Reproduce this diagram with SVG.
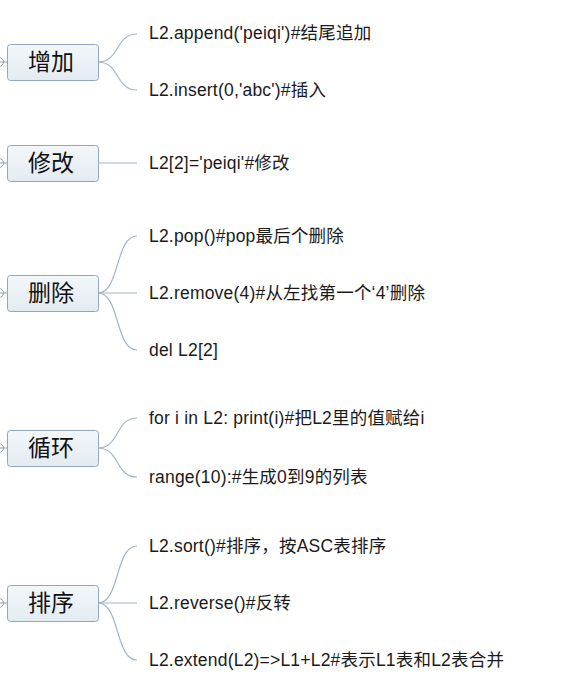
<svg xmlns="http://www.w3.org/2000/svg" width="562" height="690" viewBox="0 0 562 690">
<defs>
<linearGradient id="ng" x1="0" y1="0" x2="0" y2="1">
<stop offset="0" stop-color="#f3f7fa"/>
<stop offset="1" stop-color="#e3ebf2"/>
</linearGradient>
</defs>
<style>
.node rect{fill:url(#ng);stroke:#8fa8bf;stroke-width:1}
.node text{font-family:"Liberation Sans","Noto Sans CJK SC",sans-serif;font-size:23px;fill:#111;text-anchor:middle}
.leaf{font-family:"Liberation Sans","Noto Sans CJK SC",sans-serif;font-size:17.5px;letter-spacing:0.2px;fill:#1a1a1a}
.conn path{fill:none;stroke:#a3b6c6;stroke-width:1.2}
.tog circle{fill:#fff;stroke:#8f9eab;stroke-width:1}
.tog line{stroke:#8f9eab;stroke-width:1}
</style>
<rect width="562" height="690" fill="#fff"/>
<g id="connectors" class="conn">
<path d="M98,62 C120,62 115,34 137,34"/>
<path d="M98,62 C120,62 115,90 137,90"/>
<path d="M98,163 L137,163"/>
<path d="M98,293 C120,293 115,236 137,236"/>
<path d="M98,293 L137,293"/>
<path d="M98,293 C120,293 115,350 137,350"/>
<path d="M98,448 C120,448 115,418 137,418"/>
<path d="M98,448 C120,448 115,477 137,477"/>
<path d="M98,603 C120,603 115,546 137,546"/>
<path d="M98,603 L137,603"/>
<path d="M98,603 C120,603 115,660 137,660"/>
</g>
<g class="tog">
<line x1="3" y1="62" x2="7" y2="62"/><circle cx="-1" cy="62" r="4.5"/><line x1="-4" y1="62" x2="3" y2="62"/>
<line x1="3" y1="163" x2="7" y2="163"/><circle cx="-1" cy="163" r="4.5"/><line x1="-4" y1="163" x2="3" y2="163"/>
<line x1="3" y1="293" x2="7" y2="293"/><circle cx="-1" cy="293" r="4.5"/><line x1="-4" y1="293" x2="3" y2="293"/>
<line x1="3" y1="448" x2="7" y2="448"/><circle cx="-1" cy="448" r="4.5"/><line x1="-4" y1="448" x2="3" y2="448"/>
<line x1="3" y1="603" x2="7" y2="603"/><circle cx="-1" cy="603" r="4.5"/><line x1="-4" y1="603" x2="3" y2="603"/>
</g>
<g id="n-add" class="node"><rect x="7.5" y="44.5" width="91" height="36" rx="3"/><text x="51" y="70">增加</text></g>
<g id="n-edit" class="node"><rect x="7.5" y="145.5" width="91" height="36" rx="3"/><text x="51" y="171">修改</text></g>
<g id="n-del" class="node"><rect x="7.5" y="275.5" width="91" height="36" rx="3"/><text x="51" y="301">删除</text></g>
<g id="n-loop" class="node"><rect x="7.5" y="430.5" width="91" height="36" rx="3"/><text x="51" y="456">循环</text></g>
<g id="n-sort" class="node"><rect x="7.5" y="585.5" width="91" height="36" rx="3"/><text x="51" y="611">排序</text></g>
<g id="leaves">
<text class="leaf" x="149" y="39">L2.append('peiqi')#结尾追加</text>
<text class="leaf" x="149" y="96">L2.insert(0,'abc')#插入</text>
<text class="leaf" x="149" y="169">L2[2]='peiqi'#修改</text>
<text class="leaf" x="149" y="242">L2.pop()#pop最后个删除</text>
<text class="leaf" x="149" y="299">L2.remove(4)#从左找第一个‘4’删除</text>
<text class="leaf" x="149" y="356">del L2[2]</text>
<text class="leaf" x="149" y="424">for i in L2: print(i)#把L2里的值赋给i</text>
<text class="leaf" x="149" y="483">range(10):#生成0到9的列表</text>
<text class="leaf" x="149" y="552">L2.sort()#排序，按ASC表排序</text>
<text class="leaf" x="149" y="609">L2.reverse()#反转</text>
<text class="leaf" x="149" y="666">L2.extend(L2)=&gt;L1+L2#表示L1表和L2表合并</text>
</g>
</svg>
